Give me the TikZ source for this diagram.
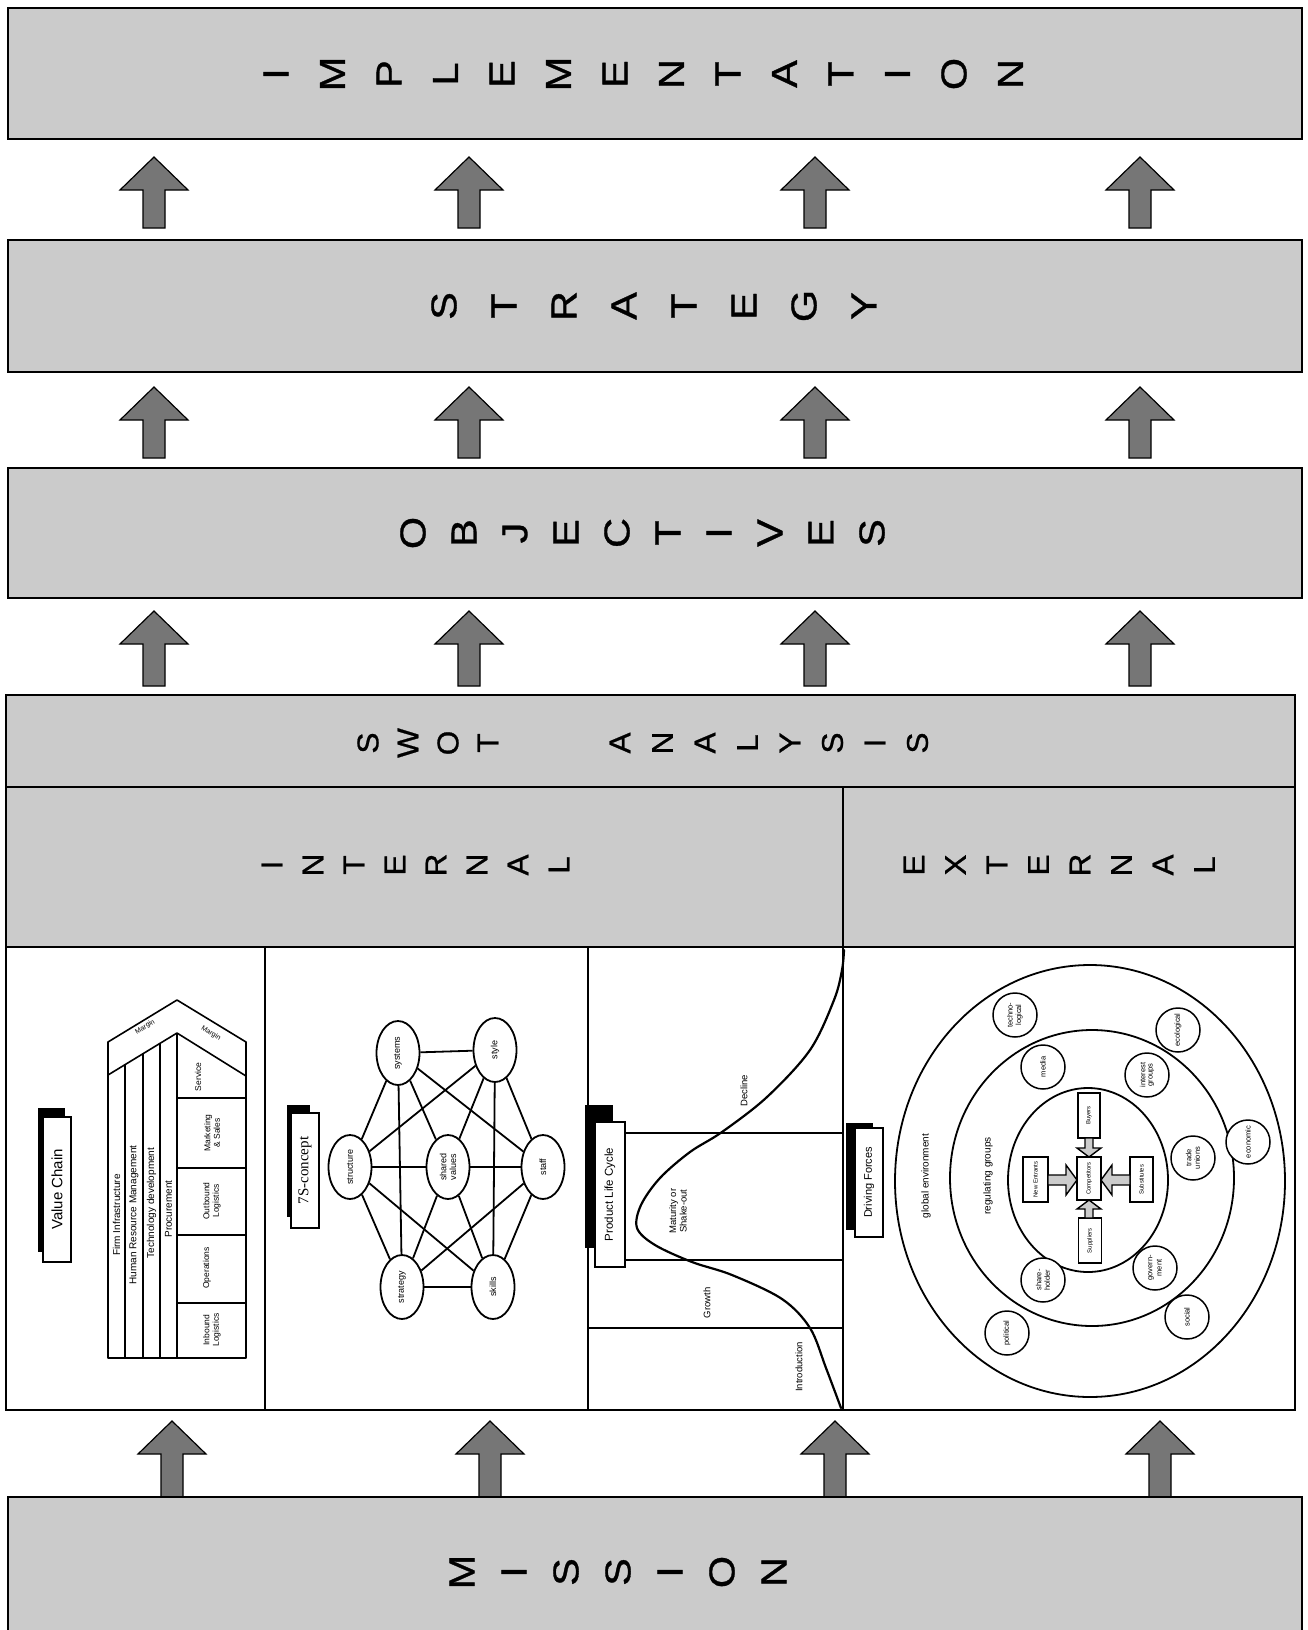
\documentclass[tikz,border=0pt]{standalone}
\usepackage{fontspec}
\setmainfont{Liberation Sans}
\newfontfamily\tnr{Liberation Serif}
\newfontfamily\heavysans[FakeBold=0.8]{Liberation Sans}
\usetikzlibrary{shapes.geometric}
\pgfdeclarelayer{background}
\pgfsetlayers{background,main}
\definecolor{boxgray}{RGB}{203,203,203}
\definecolor{arrowgray}{RGB}{118,118,118}
\tikzset{
  graybox/.style={draw=black, line width=2.5pt, fill=boxgray},
  panelline/.style={draw=black, line width=2pt},
  bigletter/.style={rotate=90, inner sep=0pt, font=\heavysans\fontsize{36}{36}\selectfont},
  midletter/.style={rotate=90, inner sep=0pt, font=\heavysans\fontsize{30}{30}\selectfont},
  uparrow/.style={draw=black, line width=1.2pt, fill=arrowgray, line join=miter},
  labelbox/.style={draw=black, fill=white, line width=1.5pt, inner sep=0pt},
  vcline/.style={draw=black, line width=1.6pt, line join=round},
  vctext/.style={rotate=90, inner sep=0pt, font=\fontsize{10}{11}\selectfont},
  vcsmall/.style={rotate=90, inner sep=0pt, align=center, font=\fontsize{8.5}{9.5}\selectfont},
  margintext/.style={inner sep=0pt, font=\fontsize{7}{8}\selectfont},
  sevenS/.style={ellipse, draw=black, fill=white, line width=1.8pt, minimum width=43pt, minimum height=64pt, inner sep=0pt, font=\fontsize{9}{10}\selectfont},
  sline/.style={draw=black, line width=1.8pt},
  plctext/.style={rotate=90, inner sep=0pt, align=center, font=\fontsize{9.5}{10.5}\selectfont},
  envcircle/.style={circle, draw=black, fill=white, line width=1.5pt, minimum size=44pt, inner sep=0pt, font=\fontsize{7.5}{8}\selectfont},
  forcebox/.style={rectangle, draw=black, fill=white, line width=1.3pt, inner sep=0pt, font=\fontsize{6}{6.5}\selectfont},
  fivearrow/.style={draw=black, line width=1.4pt, fill=gray!40, line join=miter},
  envtext/.style={rotate=90, inner sep=0pt, font=\fontsize{10}{11}\selectfont}
}
\newcommand{\uparr}[3]{%
  \draw[uparrow] (#1,#2) -- (#1+34,#2+33) -- (#1+11,#2+33) -- (#1+11,#3) -- (#1-11,#3) -- (#1-11,#2+33) -- (#1-34,#2+33) -- cycle;}
% name, style, x0, step, y, horizontal glyph scale, letters
\newcommand{\stackword}[7]{%
  \foreach \ltr [count=\i from 0] in {#7} {
    \node[#2] (#1-\i) at ({#3+\i*#4},#5) {\scalebox{#6}[1]{\ltr}};
  }}
\begin{document}
\begin{tikzpicture}[x=1pt,y=-1pt]
\useasboundingbox (0,0) rectangle (1307,1630);
\clip (0,0) rectangle (1307,1630);
\begin{pgfonlayer}{background}
\fill[white] (0,0) rectangle (1307,1630);
\end{pgfonlayer}

% ---------- top boxes ----------
\draw[graybox] (8,8) rectangle (1302,139);
\stackword{impl}{bigletter}{276}{56.5}{74}{1.15}{I,M,P,L,E,M,E,N,T,A,T,I,O,N}
\draw[graybox] (8,240) rectangle (1302,372);
\stackword{strat}{bigletter}{444}{60}{306}{1.15}{S,T,R,A,T,E,G,Y}
\draw[graybox] (8,468) rectangle (1302,598);
\stackword{obj}{bigletter}{413}{51}{533}{1.15}{O,B,J,E,C,T,I,V,E,S}

% ---------- arrows ----------
\foreach \ax in {154,469,815,1140} {
  \uparr{\ax}{157}{228}
  \uparr{\ax}{387}{458}
  \uparr{\ax}{611}{686}
}
\foreach \ax in {172,490,835,1160} {
  \uparr{\ax}{1421}{1497}
}

% ---------- SWOT block ----------
\draw[graybox] (6,695) rectangle (1295,787);
\stackword{swot}{midletter}{368}{40}{743}{1.05}{S,W,O,T}
\stackword{anal}{midletter}{620}{42.5}{743}{1.05}{A,N,A,L,Y,S,I,S}
\draw[graybox] (6,787) rectangle (843,947);
\draw[graybox] (843,787) rectangle (1295,947);
\stackword{intl}{midletter}{272}{41}{865}{1.05}{I,N,T,E,R,N,A,L}
\stackword{extl}{midletter}{914}{41.5}{865}{1.05}{E,X,T,E,R,N,A,L}

% ---------- panels ----------
\draw[panelline] (6,947) rectangle (1295,1410);
\draw[panelline] (265,947) -- (265,1410);
\draw[panelline] (588,947) -- (588,1410);
\draw[panelline] (843,947) -- (843,1410);

% ---------- mission ----------
\draw[graybox] (8,1497) rectangle (1302,1660);
\stackword{miss}{bigletter}{462}{52}{1572}{1.15}{M,I,S,S,I,O,N}

% ---------- Value chain panel ----------
\fill[black] (38,1108) rectangle (65,1252);
\node[labelbox, minimum width=28pt, minimum height=145pt] (vclabel) at (57,1189.5) {\rotatebox{90}{\fontsize{15}{15}\selectfont Value Chain}};
\draw[vcline] (108,1042) -- (177,1000) -- (246,1042) -- (246,1358) -- (108,1358) -- cycle;
\draw[vcline] (108,1075) -- (177,1033) -- (246,1076);
\draw[vcline] (177,1033) -- (177,1358);
\draw[vcline] (125,1064.7) -- (125,1358);
\draw[vcline] (143,1053.7) -- (143,1358);
\draw[vcline] (160,1043.3) -- (160,1358);
\foreach \yy in {1098,1168,1235,1303} { \draw[vcline] (177,\yy) -- (246,\yy); }
\node[vctext] (fi) at (116.5,1215) {Firm Infrastructure};
\node[vctext] (hrm) at (134,1215) {Human Resource Management};
\node[vctext] (td) at (151.5,1203) {Technology development};
\node[vctext] (proc) at (168.5,1209) {Procurement};
\node[vcsmall] (serv) at (198,1077) {Service};
\node[vcsmall] (mkt) at (212,1133) {Marketing\\\& Sales};
\node[vcsmall] (outl) at (212,1201) {Outbound\\Logistics};
\node[vcsmall] (ops) at (207,1268) {Operations};
\node[vcsmall] (inl) at (212,1330) {Inbound\\Logistics};
\node[margintext, rotate=31] (m1) at (145,1027) {Margin};
\node[margintext, rotate=-31] (m2) at (211,1033) {Margin};

% ---------- 7S panel ----------
\fill[black] (287,1105) rectangle (310,1217);
\node[labelbox, minimum width=28pt, minimum height=115pt] (sslabel) at (305,1170.5) {\rotatebox{90}{\tnr\fontsize{15}{15}\selectfont 7S-concept}};
\node[sevenS] (sys) at (398,1053) {\rotatebox{90}{systems}};
\node[sevenS] (sty) at (495,1050) {\rotatebox{90}{style}};
\node[sevenS] (str) at (350,1167) {\rotatebox{90}{structure}};
\node[sevenS] (shv) at (448,1167) {\rotatebox{90}{\shortstack{shared\\values}}};
\node[sevenS] (stf) at (543,1167) {\rotatebox{90}{staff}};
\node[sevenS] (stg) at (402,1287) {\rotatebox{90}{strategy}};
\node[sevenS] (skl) at (493,1287) {\rotatebox{90}{skills}};
\begin{pgfonlayer}{background}
\foreach \a/\b in {sys/sty, sys/str, sys/shv, sys/stf, sys/stg,
                   sty/str, sty/shv, sty/stf, sty/skl,
                   str/shv, str/stg, str/skl,
                   shv/stf, shv/stg, shv/skl,
                   stf/stg, stf/skl, stg/skl} {
  \draw[sline] (\a) -- (\b);
}
\end{pgfonlayer}

% ---------- Product life cycle panel ----------
\draw[panelline] (625,1133) -- (843,1133);
\draw[panelline] (625,1260) -- (843,1260);
\draw[panelline] (588,1328) -- (843,1328);
\fill[black] (585,1105) rectangle (613,1248);
\node[labelbox, minimum width=30pt, minimum height=145pt] (plclabel) at (610,1194.5) {\rotatebox{90}{\fontsize{11.5}{12}\selectfont Product Life Cycle}};
\draw[line width=2.2pt, line cap=round] plot[smooth, tension=0.55] coordinates {(841,1408) (826,1368) (810,1328) (782,1299) (732,1275) (692,1262) (655,1245) (637,1228) (641,1205) (660,1178) (690,1152) (722,1132) (767,1097) (810,1050) (834,1000) (842,970) (844,950)};
\node[plctext] (decl) at (744,1091) {Decline};
\node[plctext] (mat) at (678,1211) {Maturity or\\Shake-out};
\node[plctext] (grow) at (707,1303) {Growth};
\node[plctext] (intro) at (799,1367) {Introduction};

% ---------- External panel ----------
\fill[black] (846,1123) rectangle (873,1230);
\node[labelbox, minimum width=28pt, minimum height=109pt] (dflabel) at (869,1182.5) {\rotatebox{90}{\fontsize{11}{12}\selectfont Driving Forces}};
\draw[line width=1.8pt] (1090,1181) ellipse [x radius=195pt, y radius=216pt];
\draw[line width=1.8pt] (1092,1178) ellipse [x radius=142pt, y radius=148pt];
\draw[line width=1.8pt] (1088,1180) ellipse [x radius=80pt, y radius=92pt];
\node[envtext] (glob) at (926,1176) {global environment};
\node[envtext] (reg) at (988,1176) {regulating groups};
\node[envcircle] (tech) at (1015,1015) {\rotatebox{90}{\shortstack{techno-\\logical}}};
\node[envcircle] (eco) at (1178,1030) {\rotatebox{90}{ecological}};
\node[envcircle] (media) at (1043,1067) {\rotatebox{90}{media}};
\node[envcircle] (intg) at (1147,1075) {\rotatebox{90}{\shortstack{interest\\groups}}};
\node[envcircle] (econ) at (1248,1142) {\rotatebox{90}{economic}};
\node[envcircle] (trade) at (1193,1158) {\rotatebox{90}{\shortstack{trade\\unions}}};
\node[envcircle] (share) at (1043,1280) {\rotatebox{90}{\shortstack{share-\\holder}}};
\node[envcircle] (gov) at (1155,1268) {\rotatebox{90}{\shortstack{govern-\\ment}}};
\node[envcircle] (pol) at (1007,1333) {\rotatebox{90}{political}};
\node[envcircle] (soc) at (1187,1317) {\rotatebox{90}{social}};
\node[forcebox, minimum width=22pt, minimum height=45pt] (buy) at (1089,1115.5) {\rotatebox{90}{Buyers}};
\node[forcebox, minimum width=24pt, minimum height=43pt] (comp) at (1089,1178.5) {\rotatebox{90}{Competitors}};
\node[forcebox, minimum width=23pt, minimum height=45pt] (sup) at (1090,1240.5) {\rotatebox{90}{Suppliers}};
\node[forcebox, minimum width=25pt, minimum height=45pt] (newe) at (1035.5,1179.5) {\rotatebox{90}{New Entrants}};
\node[forcebox, minimum width=23pt, minimum height=45pt] (subs) at (1141.5,1179.5) {\rotatebox{90}{Substitutes}};
\draw[fivearrow] (1048,1175) -- (1066,1175) -- (1066,1165) -- (1077,1180) -- (1066,1195) -- (1066,1185) -- (1048,1185) -- cycle;
\draw[fivearrow] (1130,1175) -- (1112,1175) -- (1112,1165) -- (1101,1180) -- (1112,1195) -- (1112,1185) -- (1130,1185) -- cycle;
\draw[fivearrow] (1085,1138) -- (1085,1148) -- (1077,1148) -- (1089,1157) -- (1101,1148) -- (1093,1148) -- (1093,1138) -- cycle;
\draw[fivearrow] (1085,1218) -- (1085,1209) -- (1077,1209) -- (1089,1200) -- (1101,1209) -- (1093,1209) -- (1093,1218) -- cycle;
\end{tikzpicture}
\end{document}
